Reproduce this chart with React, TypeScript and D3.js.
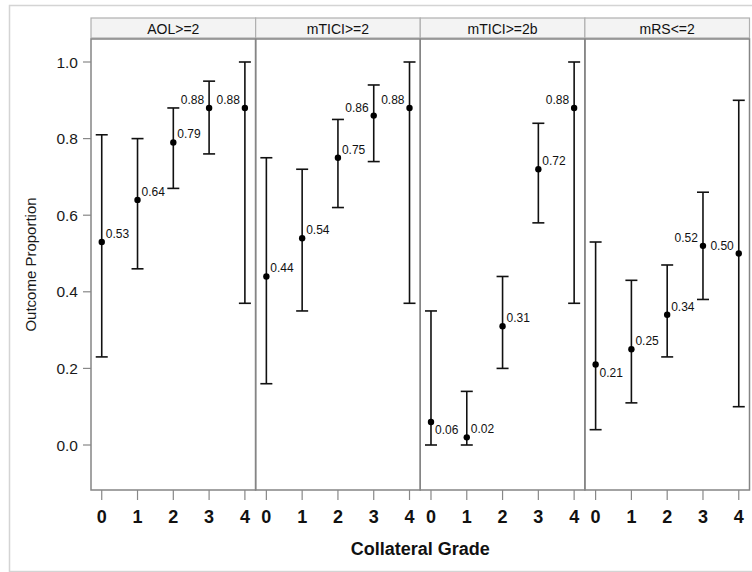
import React from 'react'
import * as d3 from 'd3'

// panel titles and collateral grades
const panels = ['AOL>=2', 'mTICI>=2', 'mTICI>=2b', 'mRS<=2']
const grades = [0, 1, 2, 3, 4]
const yTicks = [0, 0.2, 0.4, 0.6, 0.8, 1.0]

// proportion and CI per panel
const aolMid = [0.53, 0.64, 0.79, 0.88, 0.88]
const aolLow = [0.23, 0.46, 0.67, 0.76, 0.37]
const aolHigh = [0.81, 0.80, 0.88, 0.95, 1.00]

const ticiMid = [0.44, 0.54, 0.75, 0.86, 0.88]
const ticiLow = [0.16, 0.35, 0.62, 0.74, 0.37]
const ticiHigh = [0.75, 0.72, 0.85, 0.94, 1.00]

const tici2bMid = [0.06, 0.02, 0.31, 0.72, 0.88]
const tici2bLow = [0.00, 0.00, 0.20, 0.58, 0.37]
const tici2bHigh = [0.35, 0.14, 0.44, 0.84, 1.00]

const mrsMid = [0.21, 0.25, 0.34, 0.52, 0.50]
const mrsLow = [0.04, 0.11, 0.23, 0.38, 0.10]
const mrsHigh = [0.53, 0.43, 0.47, 0.66, 0.90]

const mids = [aolMid, ticiMid, tici2bMid, mrsMid]
const lows = [aolLow, ticiLow, tici2bLow, mrsLow]
const highs = [aolHigh, ticiHigh, tici2bHigh, mrsHigh]

// where the value label sits next to its point
const labelSide = [
  ['ur', 'ur', 'ur', 'ul', 'ul'],
  ['ur', 'ur', 'ur', 'ul', 'ul'],
  ['lr', 'ur', 'ur', 'ur', 'ul'],
  ['lr', 'ur', 'ur', 'ul', 'ul']
]

const W = 752
const H = 572
const left = 91
const right = 749.5
const top = 39
const bottom = 490
const headTop = 18
const font = 'Arial, "Liberation Sans", sans-serif'

export default function App () {
  const panelW = (right - left) / panels.length
  const y = d3.scaleLinear().domain([0, 1]).range([445, 62])
  const cap = 6

  return (
    <svg width={W} height={H} style={{ position: 'absolute', left: 0, top: 0, background: '#fff' }} fontFamily={font}>
      <rect x={9.5} y={5.5} width={760} height={566} fill='none' stroke='#d4d4d4' strokeWidth={1.5} />

      {/* y axis */}
      {yTicks.map((t) => (
        <g key={t}>
          <line x1={83} x2={left} y1={y(t)} y2={y(t)} stroke='#888' strokeWidth={1.2} />
          <text x={78} y={y(t) + 5.5} textAnchor='end' fontSize={15.5} fill='#1a1a1a'>{t.toFixed(1)}</text>
        </g>
      ))}
      <text transform={`translate(36,${(top + bottom) / 2}) rotate(-90)`} textAnchor='middle' fontSize={15} fill='#1a1a1a'>Outcome Proportion</text>

      {panels.map((p, i) => {
        const x0 = left + i * panelW
        const x = d3.scaleLinear().domain([-0.3, 4.3]).range([x0, x0 + panelW])
        return (
          <g key={p}>
            <rect x={x0} y={headTop} width={panelW} height={top - headTop - 1} fill='#f3f3f3' stroke='#b0b0b0' strokeWidth={1.2} />
            <text x={x0 + panelW / 2} y={headTop + 15.5} textAnchor='middle' fontSize={14} fill='#111'>{p}</text>
            <rect x={x0} y={top} width={panelW} height={bottom - top} fill='none' stroke='#858585' strokeWidth={1.5} />

            {grades.map((g) => (
              <g key={g}>
                <line x1={x(g)} x2={x(g)} y1={bottom} y2={bottom + 10} stroke='#888' strokeWidth={1.2} />
                <text x={x(g)} y={523} textAnchor='middle' fontSize={18} fontWeight='bold' fill='#111'>{g}</text>
              </g>
            ))}

            {grades.map((g, j) => {
              const cx = x(g)
              const cy = y(mids[i][j])
              const side = labelSide[i][j]
              const lx = side === 'ul' ? cx - 5 : cx + 4
              const ly = side === 'lr' ? cy + 12 : cy - 4
              return (
                <g key={'e' + g}>
                  <line x1={cx} x2={cx} y1={y(lows[i][j])} y2={y(highs[i][j])} stroke='#111' strokeWidth={1.6} />
                  <line x1={cx - cap} x2={cx + cap} y1={y(lows[i][j])} y2={y(lows[i][j])} stroke='#111' strokeWidth={1.6} />
                  <line x1={cx - cap} x2={cx + cap} y1={y(highs[i][j])} y2={y(highs[i][j])} stroke='#111' strokeWidth={1.6} />
                  <circle cx={cx} cy={cy} r={3.2} fill='#000' />
                  <text x={lx} y={ly} textAnchor={side === 'ul' ? 'end' : 'start'} fontSize={12} fill='#111'>{mids[i][j].toFixed(2)}</text>
                </g>
              )
            })}
          </g>
        )
      })}

      <text x={(left + right) / 2} y={555} textAnchor='middle' fontSize={18} fontWeight='bold' fill='#111'>Collateral Grade</text>
    </svg>
  )
}
